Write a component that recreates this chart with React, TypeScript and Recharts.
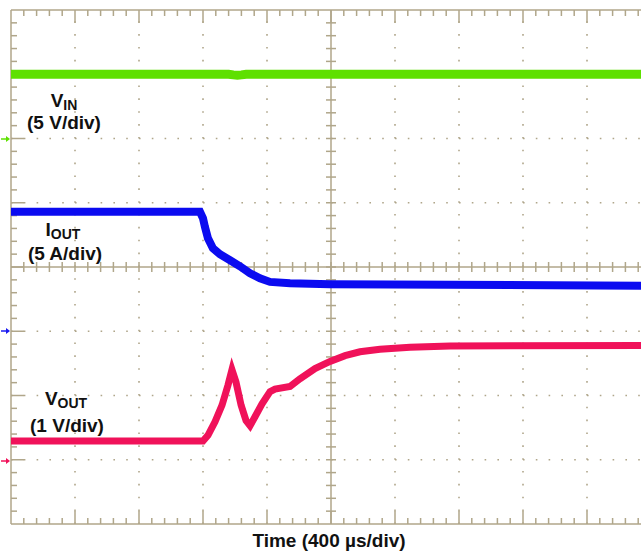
import { LineChart, Line, XAxis, YAxis, ReferenceLine } from "recharts";

// time axis: 400 us/div, 10 divisions, 5 minor ticks per division
const timeMajorUs = [0, 400, 800, 1200, 1600, 2000, 2400, 2800, 3200, 3600, 4000];
const timeMinorUs = Array.from({ length: 51 }, (_, i) => i * 80);
// vertical divisions expressed on the VOUT axis (1 V/div)
const voutMajorV = [-1, 0, 1, 2, 3, 4, 5, 6, 7];
const voutMinorV = Array.from({ length: 41 }, (_, i) => -1 + i * 0.2);

// VIN, 5 V/div
const vinTimeUs = [0, 1360, 1390, 1415, 1440, 1470, 3940];
const vinVolts = [5.0, 5.0, 4.95, 4.92, 4.95, 5.0, 5.0];

// IOUT, 5 A/div
const ioutTimeUs = [0, 1181, 1200, 1212, 1231, 1262, 1306, 1369, 1431, 1494, 1556, 1619, 1744, 1994, 3940];
const ioutAmps = [9.3, 9.3, 8.79, 8.12, 7.24, 6.46, 5.99, 5.53, 5.06, 4.51, 4.12, 3.84, 3.74, 3.66, 3.55];

// VOUT, 1 V/div
const voutTimeUs = [0, 1200, 1231, 1275, 1319, 1356, 1381, 1406, 1438, 1469, 1494, 1525, 1569, 1619, 1650, 1744, 1806, 1900, 1994, 2088, 2181, 2306, 2494, 2744, 3940];
const voutVolts = [0.29, 0.29, 0.38, 0.59, 0.85, 1.16, 1.4, 1.21, 0.85, 0.61, 0.53, 0.67, 0.87, 1.06, 1.1, 1.14, 1.26, 1.42, 1.53, 1.62, 1.68, 1.72, 1.75, 1.77, 1.78];

const vinData = vinTimeUs.map((t, i) => ({ t, v: vinVolts[i] }));
const ioutData = ioutTimeUs.map((t, i) => ({ t, v: ioutAmps[i] }));
const voutData = voutTimeUs.map((t, i) => ({ t, v: voutVolts[i] }));

const GRID = "#b0a68a";
const US_PER_PX = 6.25;
const V_PER_PX = 1 / 64.25;

export default function App() {
  const ticks: JSX.Element[] = [];
  timeMinorUs.forEach((t, i) => {
    const major = i % 5 === 0;
    const len = (major ? 13 : 6) * V_PER_PX;
    if (t > 0 && t < 4000) {
      ticks.push(<ReferenceLine key={"top" + i} yAxisId="vout" stroke={GRID} strokeWidth={1.5} segment={[{ x: t, y: 7 }, { x: t, y: 7 - len }]} />);
      ticks.push(<ReferenceLine key={"bot" + i} yAxisId="vout" stroke={GRID} strokeWidth={1.5} segment={[{ x: t, y: -1 }, { x: t, y: -1 + len }]} />);
      ticks.push(<ReferenceLine key={"ch" + i} yAxisId="vout" stroke={GRID} strokeWidth={1.5} segment={[{ x: t, y: 3 - 5 * V_PER_PX }, { x: t, y: 3 + 5 * V_PER_PX }]} />);
    }
  });
  voutMinorV.forEach((v, i) => {
    const major = i % 5 === 0;
    const len = (major ? 13 : 6) * US_PER_PX;
    if (i > 0 && i < 40) {
      ticks.push(<ReferenceLine key={"left" + i} yAxisId="vout" stroke={GRID} strokeWidth={1.5} segment={[{ x: 0, y: v }, { x: len, y: v }]} />);
      ticks.push(<ReferenceLine key={"cv" + i} yAxisId="vout" stroke={GRID} strokeWidth={1.5} segment={[{ x: 2000 - 5 * US_PER_PX, y: v }, { x: 2000 + 5 * US_PER_PX, y: v }]} />);
    }
  });

  const font = "'Liberation Sans', Arial, sans-serif";

  return (
    <div style={{ position: "absolute", left: 0, top: 0, width: 641, height: 552, overflow: "hidden", background: "#fff" }}>
      <LineChart width={660} height={552} margin={{ top: 10, right: 9, bottom: 28, left: 11 }}>
        <XAxis type="number" dataKey="t" domain={[0, 4000]} ticks={timeMajorUs} hide allowDataOverflow />
        <YAxis yAxisId="vin" type="number" domain={[-30, 10]} hide allowDataOverflow />
        <YAxis yAxisId="iout" type="number" domain={[-15, 25]} hide allowDataOverflow />
        <YAxis yAxisId="vout" type="number" domain={[-1, 7]} ticks={voutMajorV} hide allowDataOverflow />

        {voutMajorV.filter((v) => v !== -1 && v !== 7 && v !== 3).map((v) => (
          <ReferenceLine key={"h" + v} yAxisId="vout" y={v} stroke={GRID} strokeWidth={1.6} strokeDasharray="1.6 11.2" />
        ))}
        {timeMajorUs.filter((t) => t !== 0 && t !== 4000 && t !== 2000).map((t) => (
          <ReferenceLine key={"v" + t} yAxisId="vout" x={t} stroke={GRID} strokeWidth={1.6} strokeDasharray="1.6 11.25" />
        ))}
        <ReferenceLine yAxisId="vout" y={3} stroke={GRID} strokeWidth={1.5} />
        <ReferenceLine yAxisId="vout" x={2000} stroke={GRID} strokeWidth={1.5} />
        <ReferenceLine yAxisId="vout" y={7} stroke={GRID} strokeWidth={1.5} />
        <ReferenceLine yAxisId="vout" y={-1} stroke={GRID} strokeWidth={1.5} />
        <ReferenceLine yAxisId="vout" x={0} stroke={GRID} strokeWidth={1.5} />
        {ticks}

        <Line yAxisId="vin" data={vinData} dataKey="v" type="linear" stroke="#5ee000" strokeWidth={9} dot={false} isAnimationActive={false} />
        <Line yAxisId="iout" data={ioutData} dataKey="v" type="linear" stroke="#0b0bf0" strokeWidth={8} dot={false} isAnimationActive={false} />
        <Line yAxisId="vout" data={voutData} dataKey="v" type="linear" stroke="#f0125a" strokeWidth={7} dot={false} isAnimationActive={false} />
      </LineChart>

      <svg width={641} height={552} style={{ position: "absolute", left: 0, top: 0, pointerEvents: "none" }} fontFamily={font} fontWeight="bold">
        <g>
          <line x1={1} y1={139} x2={8} y2={139} stroke="#5ee000" strokeWidth={1.5} />
          <polygon points="6,136 10,139 6,142" fill="#5ee000" />
          <line x1={1} y1={331} x2={8} y2={331} stroke="#1a1af0" strokeWidth={1.5} />
          <polygon points="6,328 10,331 6,334" fill="#1a1af0" />
          <line x1={1} y1={461} x2={8} y2={461} stroke="#f0125a" strokeWidth={1.5} />
          <polygon points="6,458 10,461 6,464" fill="#f0125a" />
        </g>
        <text x={64} y={107} textAnchor="middle" fontSize={19} fill="#111">
          V<tspan fontSize={14} dy={3}>IN</tspan>
        </text>
        <text x={64} y={129} textAnchor="middle" fontSize={19} fill="#111">(5 V/div)</text>
        <text x={63} y={236} textAnchor="middle" fontSize={19} fill="#111">
          I<tspan fontSize={14} dy={3}>OUT</tspan>
        </text>
        <text x={65} y={260} textAnchor="middle" fontSize={19} fill="#111">(5 A/div)</text>
        <text x={66} y={405} textAnchor="middle" fontSize={19} fill="#111">
          V<tspan fontSize={14} dy={3}>OUT</tspan>
        </text>
        <text x={67} y={432} textAnchor="middle" fontSize={19} fill="#111">(1 V/div)</text>
        <text x={329} y={547} textAnchor="middle" fontSize={19} fill="#111">Time (400 µs/div)</text>
      </svg>
    </div>
  );
}
